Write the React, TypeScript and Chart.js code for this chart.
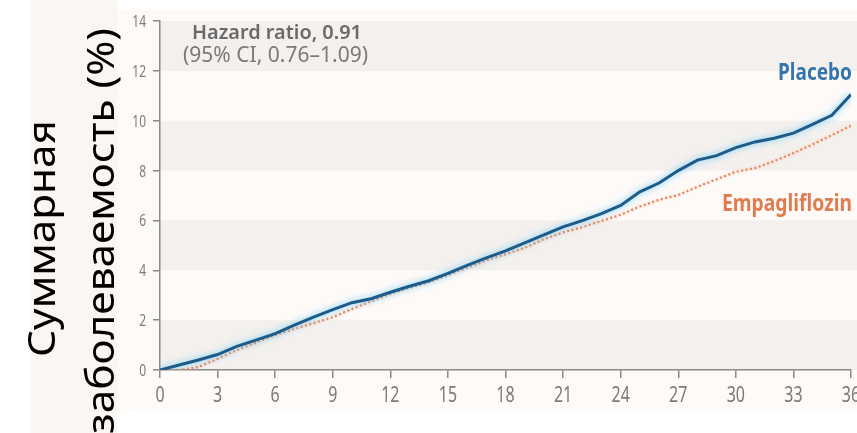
import React, { useEffect, useRef } from "react";
import { Chart, registerables } from "chart.js";

Chart.register(...registerables);

// Months since randomisation
const months = [
  0, 1, 2, 3, 4, 5, 6, 7, 8, 9, 10, 11, 12, 13, 14, 15, 16, 17, 18,
  19, 20, 21, 22, 23, 24, 25, 26, 27, 28, 29, 30, 31, 32, 33, 34, 35, 36,
];

// Cumulative incidence (%)
const placebo = [
  0, 0.2, 0.4, 0.62, 0.95, 1.2, 1.46, 1.8, 2.12, 2.42, 2.7, 2.86, 3.12,
  3.36, 3.58, 3.88, 4.2, 4.5, 4.78, 5.1, 5.42, 5.74, 5.99, 6.27, 6.6,
  7.15, 7.5, 8.0, 8.42, 8.6, 8.92, 9.15, 9.3, 9.5, 9.85, 10.22, 11.05,
];
const empagliflozin = [
  0, 0, 0.12, 0.45, 0.8, 1.1, 1.4, 1.65, 1.88, 2.12, 2.45, 2.75, 3.05,
  3.3, 3.52, 3.8, 4.1, 4.4, 4.65, 4.9, 5.25, 5.52, 5.73, 5.98, 6.23,
  6.56, 6.83, 7.02, 7.35, 7.65, 7.95, 8.1, 8.38, 8.7, 9.05, 9.42, 9.8,
];

const xTicks = [0, 3, 6, 9, 12, 15, 18, 21, 24, 27, 30, 33, 36];
const yTicks = [0, 2, 4, 6, 8, 10, 12, 14];
const shadedBands = [
  [0, 2],
  [4, 6],
  [8, 10],
  [12, 14],
];
const seriesNames = ["Placebo", "Empagliflozin"];
const hazardText = ["Hazard ratio, 0.91", "(95% CI, 0.76–1.09)"];
const yTitle = ["Суммарная", "заболеваемость (%)"];

const BLUE = "#1d5c8a";
const ORANGE = "#e8865a";
const AXIS = "#8a8a8a";
const TICK_TEXT = "#7b7b7b";
const SANS = "'Noto Sans', 'Open Sans', sans-serif";

// Draws text at a given width and cap height (stretching as needed).
function fitText(
  ctx: CanvasRenderingContext2D,
  text: string,
  x: number,
  y: number,
  opts: {
    width?: number;
    capH: number;
    weight?: string;
    color: string;
    align?: CanvasTextAlign;
    rotate?: boolean;
    size?: number;
  }
) {
  const size = opts.size ?? 20;
  ctx.save();
  ctx.font = `${opts.weight ?? "normal"} ${size}px ${SANS}`;
  const w = ctx.measureText(text).width;
  const sx = opts.width ? opts.width / w : 1;
  const sy = opts.capH / (0.714 * size);
  ctx.translate(x, y);
  if (opts.rotate) ctx.rotate(-Math.PI / 2);
  ctx.scale(sx, sy);
  ctx.textAlign = opts.align ?? "left";
  ctx.textBaseline = "alphabetic";
  ctx.fillStyle = opts.color;
  ctx.fillText(text, 0, 0);
  ctx.restore();
}

const backdrop = {
  id: "backdrop",
  beforeDraw(chart: any) {
    const { ctx, width, height, chartArea, scales } = chart;
    ctx.save();
    ctx.fillStyle = "#ffffff";
    ctx.fillRect(0, 0, width, height);
    ctx.fillStyle = "#fcf6f3";
    ctx.fillRect(30, 0, 87, height);
    ctx.fillStyle = "#fdfaf8";
    ctx.fillRect(117, 10, width - 117, 402);
    ctx.fillStyle = "#f3f0ee";
    for (const [lo, hi] of shadedBands) {
      const top = scales.y.getPixelForValue(hi);
      const bottom = scales.y.getPixelForValue(lo);
      ctx.fillRect(chartArea.left, top, width - chartArea.left, bottom - top);
    }
    ctx.restore();
  },
};

// Soft glow around the curves
const halo = {
  id: "halo",
  beforeDatasetDraw(chart: any, args: any) {
    const ctx = chart.ctx;
    ctx.save();
    if (args.index === 0) {
      ctx.shadowColor = "rgba(95, 200, 245, 0.95)";
      ctx.shadowBlur = 6;
    } else {
      ctx.shadowColor = "rgba(250, 185, 150, 0.7)";
      ctx.shadowBlur = 3;
    }
  },
  afterDatasetDraw(chart: any) {
    chart.ctx.restore();
  },
};

const annotations = {
  id: "annotations",
  afterDraw(chart: any) {
    const { ctx, scales } = chart;

    // Axis tick labels
    for (const v of yTicks) {
      const py = scales.y.getPixelForValue(v);
      fitText(ctx, String(v), 146, py + 6, {
        capH: 12,
        size: 12,
        color: TICK_TEXT,
        align: "right",
      });
    }
    for (const v of xTicks) {
      const px = scales.x.getPixelForValue(v);
      fitText(ctx, String(v), px, 402, {
        capH: 16,
        size: 16,
        color: TICK_TEXT,
        align: "center",
      });
    }

    // Hazard ratio note
    fitText(ctx, hazardText[0], 192, 39, {
      width: 170,
      capH: 14,
      weight: "600",
      color: "#6a6a6a",
    });
    fitText(ctx, hazardText[1], 183, 62, {
      width: 185,
      capH: 15,
      color: "#7a7a7a",
    });

    // Series labels
    fitText(ctx, seriesNames[0], 778, 80, {
      width: 74,
      capH: 17,
      weight: "bold",
      color: "#3575ad",
    });
    fitText(ctx, seriesNames[1], 722, 211, {
      width: 130,
      capH: 16,
      weight: "bold",
      color: "#e07c4f",
    });

    // Vertical axis title, two lines
    fitText(ctx, yTitle[0], 55, 357, {
      width: 237,
      capH: 27,
      size: 38,
      color: "#000000",
      rotate: true,
    });
    fitText(ctx, yTitle[1], 114, 434, {
      width: 406,
      capH: 27,
      size: 38,
      color: "#000000",
      rotate: true,
    });
  },
};

export default function App() {
  const canvasRef = useRef<HTMLCanvasElement | null>(null);

  useEffect(() => {
    const canvas = canvasRef.current;
    if (!canvas) return;

    const chart = new Chart(canvas, {
      type: "line",
      data: {
        datasets: [
          {
            label: seriesNames[0],
            data: months.map((m, i) => ({ x: m, y: placebo[i] })),
            borderColor: BLUE,
            borderWidth: 3,
            pointRadius: 0,
            tension: 0,
            fill: false,
          },
          {
            label: seriesNames[1],
            data: months.map((m, i) => ({ x: m, y: empagliflozin[i] })),
            borderColor: ORANGE,
            borderWidth: 2.2,
            borderDash: [2, 2.5],
            pointRadius: 0,
            tension: 0,
            fill: false,
          },
        ],
      },
      options: {
        responsive: false,
        animation: false,
        devicePixelRatio: 1,
        layout: { padding: { top: 21, right: 6, left: 0, bottom: 0 } },
        plugins: {
          legend: { display: false },
          tooltip: { enabled: false },
        },
        scales: {
          x: {
            type: "linear",
            min: 0,
            max: 36,
            ticks: { display: false, stepSize: 3 },
            grid: {
              display: true,
              drawOnChartArea: false,
              drawTicks: true,
              tickLength: 8,
              color: AXIS,
              lineWidth: 1.5,
            },
            border: { display: true, color: AXIS, width: 1.5 },
            afterFit(scale: any) {
              scale.height = 63;
            },
          },
          y: {
            type: "linear",
            min: 0,
            max: 14,
            ticks: { display: false, stepSize: 2 },
            grid: {
              display: true,
              drawOnChartArea: false,
              drawTicks: true,
              tickLength: 7,
              color: AXIS,
              lineWidth: 1.5,
            },
            border: { display: true, color: AXIS, width: 1.5 },
            afterFit(scale: any) {
              scale.width = 160;
            },
          },
        },
      },
      plugins: [backdrop, halo, annotations],
    });

    return () => chart.destroy();
  }, []);

  return (
    <canvas
      ref={canvasRef}
      width={857}
      height={433}
      style={{
        position: "absolute",
        left: 0,
        top: 0,
        width: 857,
        height: 433,
        display: "block",
      }}
    />
  );
}
